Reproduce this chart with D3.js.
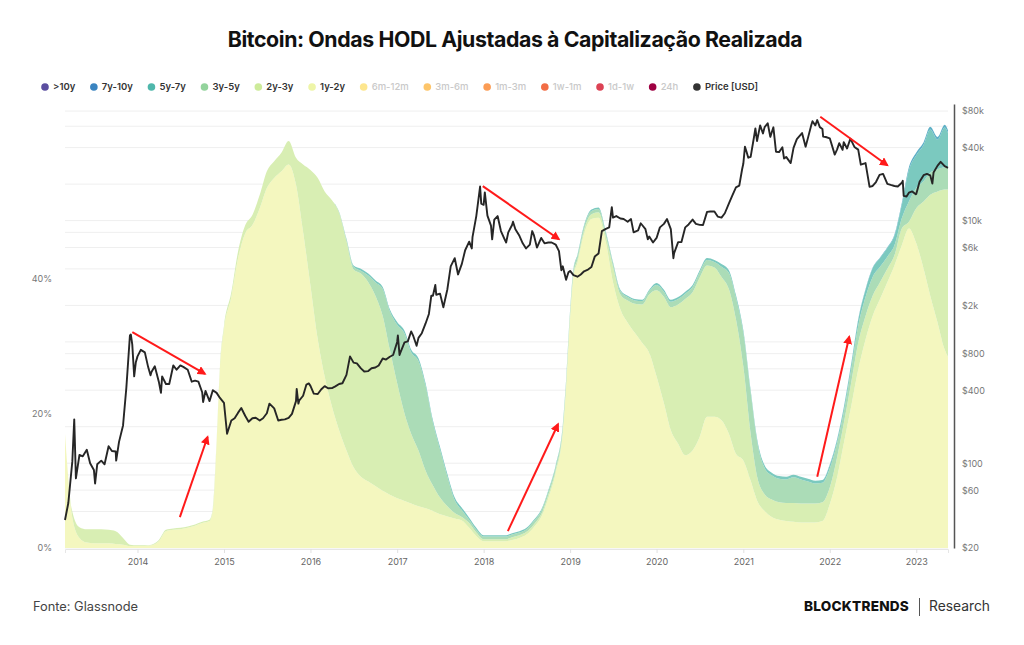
<!DOCTYPE html>
<html>
<head>
<meta charset="utf-8">
<script src="https://cdn.jsdelivr.net/npm/d3@7"></script>
<style>
body { margin: 0; background: #fff; }
svg { display: block; font-family: Inter, "Noto Sans", sans-serif; }
</style>
</head>
<body>
<div id="chart"></div>
<script>
"use strict"

// --- HODL wave data (share of realized cap, %) ---
const waveDates = [
    "2013-03-01","2013-04-01","2013-05-01","2013-06-01","2013-07-01","2013-08-01","2013-09-01","2013-10-01","2013-11-01","2013-12-01",
    "2014-01-01","2014-02-01","2014-03-01","2014-04-01","2014-05-01","2014-06-01","2014-07-01","2014-08-01","2014-09-01","2014-10-01","2014-11-01","2014-11-15","2014-12-01","2014-12-15",
    "2015-01-01","2015-02-01","2015-03-01","2015-04-01","2015-05-01","2015-06-01","2015-07-01","2015-08-01","2015-09-01","2015-10-01","2015-11-01","2015-12-01",
    "2016-01-01","2016-02-01","2016-03-01","2016-04-01","2016-05-01","2016-06-01","2016-07-01","2016-08-01","2016-09-01","2016-10-01","2016-11-01","2016-12-01",
    "2017-01-01","2017-02-01","2017-03-01","2017-04-01","2017-05-01","2017-06-01","2017-07-01","2017-08-01","2017-09-01","2017-10-01","2017-11-01","2017-12-01",
    "2018-01-01","2018-02-01","2018-03-01","2018-04-01","2018-05-01","2018-06-01","2018-07-01","2018-08-01","2018-09-01","2018-10-01","2018-11-01","2018-12-01","2018-12-15",
    "2019-01-01","2019-01-15","2019-02-01","2019-03-01","2019-04-01","2019-05-01","2019-06-01","2019-07-01","2019-08-01","2019-09-01","2019-10-01","2019-11-01","2019-12-01",
    "2020-01-01","2020-02-01","2020-03-01","2020-04-01","2020-05-01","2020-06-01","2020-07-01","2020-08-01","2020-09-01","2020-10-01","2020-11-01","2020-12-01",
    "2021-01-01","2021-02-01","2021-03-01","2021-04-01","2021-05-01","2021-06-01","2021-07-01","2021-08-01","2021-09-01","2021-10-01","2021-11-01","2021-12-01",
    "2022-01-01","2022-02-01","2022-03-01","2022-04-01","2022-05-01","2022-06-01","2022-07-01","2022-08-01","2022-09-01","2022-10-01","2022-11-01","2022-12-01",
    "2023-01-01","2023-02-01","2023-03-01","2023-04-01","2023-05-01","2023-05-15"
];

const hodl1y2y = [
    17, 4.5, 1.5, 0.8, 0.7, 0.7, 0.7, 0.6, 0.5, 0.3,
    0.3, 0.3, 0.4, 1.0, 2.5, 2.7, 2.8, 3.0, 3.3, 3.7, 4.0, 5.6, 15.6, 26.5,
    32.5, 37.3, 43, 46.8, 48, 50.5, 53.5, 55, 56, 57, 54, 47,
    39, 31, 25.5, 21, 17.5, 14.5, 12, 10.6, 9.9, 9.2, 8.5, 7.9,
    7.4, 7.0, 6.6, 6.2, 5.9, 5.5, 5.0, 4.7, 4.4, 4.1, 3.0, 1.8,
    1.0, 1.0, 1.0, 1.0, 1.2, 1.5, 2.0, 3.1, 4.6, 7.4, 11.1, 17.1, 23.8,
    34.2, 40.3, 42.4, 46.7, 48.9, 49.1, 45.4, 39.5, 35.5, 33.5, 32, 30.5, 29,
    25.5, 21.5, 17.5, 15.5, 13.8, 14.5, 16.5, 19.5, 19.5, 19, 17, 14,
    13, 10, 7, 5.5, 4.6, 4.2, 4.0, 3.9, 3.8, 3.8, 3.8, 4.0,
    6.5, 10.5, 15.5, 21, 26.5, 31, 34.5, 37, 39.5, 42, 45, 47.5,
    45.3, 41.5, 37.5, 33.5, 29.5, 28.4
];

const hodl2y3y = [
    0, 0.9, 1.6, 2.0, 2.1, 2.1, 2.0, 1.9, 1.0, 0.2,
    0.1, 0.1, 0.1, 0.2, 0.2, 0.2, 0.2, 0.2, 0.2, 0.2, 0.2, 0.3, 0.4, 0.5,
    0.5, 0.7, 1.0, 1.2, 1.5, 2.0, 2.5, 2.5, 2.8, 3.5, 4.0, 10,
    17.2, 24, 27.5, 30.7, 32.3, 31.1, 29.4, 30.2, 29.6, 28.3, 26, 21.6,
    17.1, 13, 10.4, 8.3, 5.6, 3.8, 2.5, 1.5, 0.8, 0.5, 0.7, 0.5,
    0.3, 0.3, 0.3, 0.3, 0.4, 0.4, 0.4, 0.4, 0.4, 0.5, 0.5, 0.5, 0.5,
    0.5, 0.5, 0.5, 0.6, 0.7, 0.8, 0.9, 2.3, 2.2, 3.3, 4.3, 5.7, 8.7,
    12.8, 15.8, 18.3, 20.7, 23.2, 23.5, 23.7, 22.5, 22.2, 21.3, 21.5, 20,
    14, 7, 3.5, 2.5, 2.6, 2.6, 2.7, 2.8, 2.8, 2.8, 2.8, 2.8,
    2.5, 3.0, 3.0, 3.5, 4.0, 3.5, 3.0, 2.5, 2.0, 1.5, 2.5, 1.0,
    5.2, 10, 15, 19.5, 23.8, 24.9
];

const hodl3y5y = [
    0, 0, 0, 0, 0, 0, 0, 0, 0, 0,
    0, 0, 0, 0, 0, 0, 0, 0, 0, 0, 0, 0, 0, 0,
    0, 0, 0, 0, 0, 0, 0, 0, 0, 0, 0, 0,
    0, 0, 0, 0, 0.2, 0.3, 0.4, 0.4, 1.0, 2.0, 4.0, 5.7,
    8.7, 11.9, 12.1, 13.3, 12.6, 9.3, 7.1, 4.4, 1.9, 1.0, 0.5, 0.4,
    0.4, 0.4, 0.4, 0.4, 0.4, 0.4, 0.4, 0.5, 0.5, 0.5, 0.5, 0.5, 0.5,
    0.5, 0.5, 0.5, 0.5, 0.5, 0.5, 0.5, 0.5, 0.5, 0.5, 0.5, 0.5, 0.5,
    0.8, 0.8, 0.8, 0.8, 0.8, 0.8, 0.8, 0.8, 0.8, 1.5, 2.4, 3.2,
    5, 6.1, 5.2, 3.9, 3.6, 3.5, 3.5, 3.8, 3.6, 3.3, 3.0, 2.9,
    2.8, 2.1, 1.7, 2.0, 2.5, 2.8, 2.8, 2.3, 1.8, 1.5, 1.5, 3.0,
    3.0, 3.0, 3.3, 3.3, 3.3, 3.3
];

const hodl5y7y = [
    0, 0, 0, 0, 0, 0, 0, 0, 0, 0,
    0, 0, 0, 0, 0, 0, 0, 0, 0, 0, 0, 0, 0, 0,
    0, 0, 0, 0, 0, 0, 0, 0, 0, 0, 0, 0,
    0, 0, 0, 0, 0, 0.1, 0.2, 0.3, 0.3, 0.3, 0.3, 0.3,
    0.4, 0.4, 0.4, 0.4, 0.4, 0.4, 0.4, 0.4, 0.4, 0.4, 0.3, 0.3,
    0.2, 0.2, 0.2, 0.2, 0.2, 0.2, 0.2, 0.2, 0.2, 0.2, 0.2, 0.2, 0.2,
    0.2, 0.2, 0.2, 0.2, 0.2, 0.2, 0.2, 0.2, 0.2, 0.2, 0.2, 0.2, 0.2,
    0.3, 0.3, 0.3, 0.3, 0.3, 0.3, 0.3, 0.3, 0.3, 0.4, 0.4, 0.4,
    0.4, 0.4, 0.4, 0.4, 0.4, 0.4, 0.4, 0.4, 0.4, 0.4, 0.4, 0.4,
    0.5, 0.5, 0.6, 0.7, 0.9, 1.1, 1.3, 1.3, 1.3, 1.4, 2.0, 4.7,
    4.9, 5.4, 6.4, 4.4, 5.9, 5.1
];

const hodl7y10y = [
    0, 0, 0, 0, 0, 0, 0, 0, 0, 0,
    0, 0, 0, 0, 0, 0, 0, 0, 0, 0, 0, 0, 0, 0,
    0, 0, 0, 0, 0, 0, 0, 0, 0, 0, 0, 0,
    0, 0, 0, 0, 0, 0, 0, 0, 0, 0, 0, 0,
    0, 0, 0, 0, 0, 0, 0, 0, 0, 0, 0, 0,
    0, 0, 0, 0, 0, 0, 0, 0, 0, 0, 0, 0, 0,
    0, 0, 0, 0, 0, 0, 0, 0, 0, 0, 0, 0, 0,
    0, 0, 0, 0, 0, 0, 0, 0, 0, 0, 0, 0,
    0, 0, 0, 0, 0, 0, 0, 0, 0, 0, 0, 0,
    0.1, 0.1, 0.1, 0.1, 0.1, 0.1, 0.1, 0.1, 0.1, 0.2, 0.3, 0.4,
    0.4, 0.4, 0.4, 0.4, 0.4, 0.4
];

// --- Bitcoin price (USD) ---
const price = [
    ["2013-03-01",34],["2013-03-15",47],["2013-04-01",104],["2013-04-09",230],["2013-04-16",75],["2013-05-01",117],["2013-05-15",114],
    ["2013-06-01",129],["2013-06-15",100],["2013-07-01",88],["2013-07-06",68],["2013-07-15",98],["2013-08-01",105],["2013-08-15",98],
    ["2013-09-01",138],["2013-09-15",126],["2013-10-01",125],["2013-10-03",105],["2013-10-15",150],["2013-11-01",205],["2013-11-15",420],
    ["2013-11-30",1130],["2013-12-04",1150],["2013-12-10",950],["2013-12-18",520],["2013-12-25",680],
    ["2014-01-01",760],["2014-01-15",860],["2014-02-01",820],["2014-02-15",620],["2014-02-25",530],["2014-03-01",565],["2014-03-15",630],
    ["2014-04-01",470],["2014-04-10",380],["2014-04-15",520],["2014-05-01",450],["2014-05-15",450],["2014-06-01",640],["2014-06-15",590],
    ["2014-07-01",640],["2014-07-15",620],["2014-08-01",590],["2014-08-18",470],["2014-09-01",480],["2014-09-15",470],["2014-10-01",385],
    ["2014-10-05",320],["2014-10-15",395],["2014-11-01",325],["2014-11-15",400],["2014-12-01",380],["2014-12-15",345],
    ["2015-01-01",315],["2015-01-14",175],["2015-02-01",225],["2015-02-15",235],["2015-03-01",260],["2015-03-15",285],["2015-04-01",245],
    ["2015-04-15",220],["2015-05-01",235],["2015-05-15",237],["2015-06-01",225],["2015-06-15",235],["2015-07-01",258],["2015-07-12",310],
    ["2015-08-01",283],["2015-08-18",225],["2015-09-01",228],["2015-09-15",230],["2015-10-01",237],["2015-10-15",255],["2015-11-01",325],
    ["2015-11-04",410],["2015-11-11",310],["2015-11-15",330],["2015-12-01",360],["2015-12-15",445],["2015-12-25",455],
    ["2016-01-01",434],["2016-01-15",375],["2016-02-01",372],["2016-02-15",405],["2016-03-01",432],["2016-03-15",415],["2016-04-01",416],
    ["2016-04-15",430],["2016-05-01",450],["2016-05-15",456],["2016-06-01",535],["2016-06-16",760],["2016-07-01",675],["2016-07-15",665],
    ["2016-08-01",605],["2016-08-15",570],["2016-09-01",575],["2016-09-15",607],["2016-10-01",615],["2016-10-15",640],["2016-11-01",730],
    ["2016-11-15",715],["2016-12-01",755],["2016-12-15",780],
    ["2017-01-01",1000],["2017-01-04",1130],["2017-01-11",780],["2017-01-15",820],["2017-02-01",990],["2017-02-15",1010],["2017-03-01",1220],
    ["2017-03-10",1120],["2017-03-24",930],["2017-04-01",1080],["2017-04-15",1180],["2017-05-01",1420],["2017-05-15",1700],["2017-05-25",2400],
    ["2017-06-01",2400],["2017-06-11",2950],["2017-06-15",2450],["2017-07-01",2500],["2017-07-15",1930],["2017-08-01",2720],["2017-08-15",4200],
    ["2017-09-01",4900],["2017-09-15",3600],["2017-10-01",4400],["2017-10-15",5700],["2017-11-01",6700],["2017-11-12",5900],["2017-11-15",7300],
    ["2017-12-01",10900],["2017-12-17",19100],["2017-12-22",13800],
    ["2018-01-01",13500],["2018-01-06",17100],["2018-01-17",11000],["2018-02-01",9100],["2018-02-06",7000],["2018-02-15",10200],["2018-03-01",10900],
    ["2018-03-15",8200],["2018-04-01",6900],["2018-04-06",6600],["2018-04-15",8000],["2018-05-01",9200],["2018-05-05",9800],["2018-05-15",8500],
    ["2018-06-01",7500],["2018-06-15",6500],["2018-06-29",5900],["2018-07-15",6350],["2018-07-25",8200],["2018-08-01",7600],["2018-08-14",6000],
    ["2018-09-01",7200],["2018-09-15",6500],["2018-10-01",6600],["2018-10-15",6600],["2018-11-01",6350],["2018-11-15",5600],["2018-11-25",3900],
    ["2018-12-01",4200],["2018-12-15",3250],["2018-12-25",3750],
    ["2019-01-01",3850],["2019-01-15",3550],["2019-02-01",3450],["2019-02-15",3600],["2019-03-01",3820],["2019-03-15",3920],["2019-04-01",4140],
    ["2019-04-15",5050],["2019-05-01",5350],["2019-05-15",8200],["2019-06-01",8550],["2019-06-15",8800],["2019-06-26",12900],["2019-07-01",10600],
    ["2019-07-15",10900],["2019-08-01",10400],["2019-08-15",10300],["2019-09-01",9800],["2019-09-15",10300],["2019-09-26",8000],["2019-10-15",8300],
    ["2019-10-26",9500],["2019-11-01",9200],["2019-11-15",8500],["2019-11-25",7000],["2019-12-01",7400],["2019-12-17",6600],
    ["2020-01-01",7200],["2020-01-15",8800],["2020-02-01",9400],["2020-02-14",10300],["2020-03-01",8500],["2020-03-12",4900],["2020-03-15",5400],
    ["2020-04-01",6650],["2020-04-15",6650],["2020-05-01",8800],["2020-05-15",9300],["2020-06-01",10200],["2020-06-15",9400],["2020-07-01",9230],
    ["2020-07-15",9200],["2020-08-01",11800],["2020-08-15",11900],["2020-09-01",11900],["2020-09-15",10800],["2020-10-01",10600],["2020-10-15",11500],
    ["2020-11-01",13800],["2020-11-15",16000],["2020-12-01",18800],["2020-12-15",19400],["2020-12-27",26500],
    ["2021-01-01",29400],["2021-01-08",40700],["2021-01-15",36800],["2021-01-22",33000],["2021-02-01",33500],["2021-02-15",48700],["2021-02-21",57500],
    ["2021-02-28",45200],["2021-03-13",61000],["2021-03-25",52300],["2021-04-01",59000],["2021-04-14",63500],["2021-04-25",49000],["2021-05-08",58800],
    ["2021-05-19",37000],["2021-06-01",36700],["2021-06-15",40200],["2021-06-22",32500],["2021-07-01",33500],["2021-07-20",29800],["2021-08-01",39800],
    ["2021-08-15",47000],["2021-09-06",52700],["2021-09-21",40700],["2021-10-01",48100],["2021-10-15",61500],["2021-10-20",66000],["2021-11-01",61000],
    ["2021-11-09",67500],["2021-11-20",59000],["2021-12-01",57000],["2021-12-04",49300],["2021-12-15",48900],
    ["2022-01-01",47700],["2022-01-22",35000],["2022-02-01",38700],["2022-02-10",43500],["2022-02-24",38300],["2022-03-01",44400],["2022-03-15",39300],
    ["2022-03-29",47400],["2022-04-15",40500],["2022-05-01",38500],["2022-05-12",28900],["2022-06-01",29800],["2022-06-18",19000],["2022-07-01",19300],
    ["2022-07-15",20800],["2022-07-30",23800],["2022-08-14",24300],["2022-09-01",20100],["2022-09-15",19700],["2022-10-01",19300],["2022-10-15",19100],
    ["2022-11-01",20500],["2022-11-05",21300],["2022-11-09",16000],["2022-11-21",15800],["2022-12-01",17000],["2022-12-15",17400],["2022-12-30",16500],
    ["2023-01-01",16600],["2023-01-15",20900],["2023-02-01",23700],["2023-02-15",24300],["2023-03-01",23600],["2023-03-10",20200],["2023-03-15",24900],
    ["2023-04-01",28400],["2023-04-14",30500],["2023-05-01",28100],["2023-05-15",27200]
];

// --- axes / legend ---
const pctTicks = [0, 20, 40];
const priceTicks = [20, 60, 100, 400, 800, 2000, 6000, 10000, 40000, 80000];
const priceTickLabels = ["$20", "$60", "$100", "$400", "$800", "$2k", "$6k", "$10k", "$40k", "$80k"];
const priceGrid = [20, 40, 60, 80, 100, 200, 400, 600, 800, 1000, 2000, 4000, 6000, 8000, 10000, 20000, 40000, 60000, 80000];
const yearTicks = ["2014","2015","2016","2017","2018","2019","2020","2021","2022","2023"];

const legendNames = [">10y", "7y-10y", "5y-7y", "3y-5y", "2y-3y", "1y-2y", "6m-12m", "3m-6m", "1m-3m", "1w-1m", "1d-1w", "24h", "Price [USD]"];
const legendColors = ["#5b4ea0", "#3a84c0", "#4fb7ab", "#93d39c", "#cdeb9a", "#eef5a8", "#fde68e", "#fdc56a", "#fb9c55", "#f26d45", "#dc4254", "#9e0142", "#333333"];
const legendOn = [true, true, true, true, true, true, false, false, false, false, false, false, true];

// stacked layers, bottom to top
const layerKeys = ["1y-2y", "2y-3y", "3y-5y", "5y-7y", "7y-10y"];
const layerValues = [hodl1y2y, hodl2y3y, hodl3y5y, hodl5y7y, hodl7y10y];
const layerColors = ["#f4f7bf", "#d8eeb3", "#abdcb7", "#7bc9bf", "#5eb0c6"];

// annotation arrows: [decimal year, % share] start -> end
const arrows = [
    [[2013.94, 32.1], [2014.78, 25.9]],
    [[2014.49, 4.6], [2014.81, 16.5]],
    [[2017.99, 53.8], [2018.87, 45.9]],
    [[2018.28, 2.5], [2018.86, 18.4]],
    [[2021.855, 10.6], [2022.225, 31.4]],
    [[2021.89, 64.1], [2022.665, 56.9]]
];

const width = 1024, height = 645;
const plotLeft = 65, plotRight = 948, plotTop = 104, plotBottom = 548;

const parse = d3.timeParse("%Y-%m-%d");
function yearToDate(y) {
    const yr = Math.floor(y);
    const start = new Date(yr, 0, 1), end = new Date(yr + 1, 0, 1);
    return new Date(+start + (y - yr) * (end - start));
}

const svg = d3.select("#chart").append("svg")
    .attr("width", width)
    .attr("height", height);

const x = d3.scaleTime()
    .domain([parse("2013-03-01"), parse("2023-05-15")])
    .range([plotLeft, plotRight]);
const yPct = d3.scaleLinear()
    .domain([0, 66])
    .range([plotBottom, plotTop]);
const yPrice = d3.scaleLog()
    .domain([20, 91500])
    .range([plotBottom, plotTop]);

// title
svg.append("text")
    .attr("x", width / 2 + 3)
    .attr("y", 47)
    .attr("text-anchor", "middle")
    .style("font-size", "21.3px")
    .style("font-weight", 700)
    .style("letter-spacing", "-0.4px")
    .style("fill", "#111")
    .text("Bitcoin: Ondas HODL Ajustadas à Capitalização Realizada");

// legend
let lx = 45;
legendNames.forEach((name, i) => {
    const g = svg.append("g").attr("transform", "translate(" + lx + ",87)");
    g.append("circle")
        .attr("r", 3.8)
        .attr("fill", legendColors[i]);
    const t = g.append("text")
        .attr("x", 8)
        .attr("y", 3.3)
        .style("font-size", "9.5px")
        .style("font-weight", legendOn[i] ? 600 : 500)
        .style("fill", legendOn[i] ? "#333" : "#c9c9c9")
        .text(name);
    lx += 8 + t.node().getComputedTextLength() + 18.6;
});

// grid
svg.append("g")
    .selectAll("line")
    .data(priceGrid)
    .join("line")
    .attr("x1", plotLeft)
    .attr("x2", plotRight)
    .attr("y1", d => yPrice(d))
    .attr("y2", d => yPrice(d))
    .attr("stroke", "#efefef")
    .attr("stroke-width", 1);

// stacked waves
const rows = waveDates.map((d, i) => {
    const row = { date: parse(d) };
    layerKeys.forEach((k, j) => { row[k] = layerValues[j][i]; });
    return row;
});
const stack = d3.stack().keys(layerKeys);
const series = stack(rows);

const area = d3.area()
    .curve(d3.curveMonotoneX)
    .x(d => x(d.data.date))
    .y0(d => yPct(d[0]))
    .y1(d => yPct(d[1]));

svg.append("g")
    .selectAll("path")
    .data(series)
    .join("path")
    .attr("fill", (d, i) => layerColors[i])
    .attr("d", area);

// price line
const line = d3.line()
    .x(d => x(parse(d[0])))
    .y(d => yPrice(d[1]));

svg.append("path")
    .datum(price)
    .attr("fill", "none")
    .attr("stroke", "#262626")
    .attr("stroke-width", 1.9)
    .attr("stroke-linejoin", "round")
    .attr("d", line);

// arrows
svg.append("defs").append("marker")
    .attr("id", "head")
    .attr("viewBox", "0 0 10 10")
    .attr("refX", 8)
    .attr("refY", 5)
    .attr("markerWidth", 4.5)
    .attr("markerHeight", 4.5)
    .attr("orient", "auto")
    .append("path")
    .attr("d", "M0,0 L10,5 L0,10 Z")
    .attr("fill", "#ff1a1a");

svg.append("g")
    .selectAll("line")
    .data(arrows)
    .join("line")
    .attr("x1", d => x(yearToDate(d[0][0])))
    .attr("y1", d => yPct(d[0][1]))
    .attr("x2", d => x(yearToDate(d[1][0])))
    .attr("y2", d => yPct(d[1][1]))
    .attr("stroke", "#ff1a1a")
    .attr("stroke-width", 2)
    .attr("marker-end", "url(#head)");

// left axis
const yAxisLeft = d3.axisLeft(yPct)
    .tickValues(pctTicks)
    .tickFormat(d => d + "%")
    .tickSize(0)
    .tickPadding(0);
const gl = svg.append("g")
    .attr("transform", "translate(52,0)")
    .call(yAxisLeft);
gl.select(".domain").remove();
gl.selectAll("text").style("font-size", "9px").style("fill", "#777").style("font-family", "Inter, sans-serif");

// right axis
const yAxisRight = d3.axisRight(yPrice)
    .tickValues(priceTicks)
    .tickFormat((d, i) => priceTickLabels[i])
    .tickSize(0)
    .tickPadding(8);
const gr = svg.append("g")
    .attr("transform", "translate(954,0)")
    .call(yAxisRight);
gr.select(".domain").attr("stroke", "#555").attr("stroke-width", 1.5);
gr.selectAll("text").style("font-size", "9px").style("fill", "#777").style("font-family", "Inter, sans-serif");

// bottom axis
const xAxis = d3.axisBottom(x)
    .tickValues(yearTicks.map(y => parse(y + "-01-01")))
    .tickFormat(d3.timeFormat("%Y"))
    .tickSize(4)
    .tickPadding(6);
const gb = svg.append("g")
    .attr("transform", "translate(0," + (plotBottom + 1) + ")")
    .call(xAxis);
gb.select(".domain").attr("stroke", "#e6e6e6");
gb.selectAll(".tick line").attr("stroke", "#e0e0e0");
gb.selectAll("text").style("font-size", "9px").style("fill", "#666").style("font-family", "Inter, sans-serif");

// footer
svg.append("text")
    .attr("x", 33)
    .attr("y", 611)
    .style("font-size", "12.8px")
    .style("fill", "#444")
    .text("Fonte: Glassnode");

svg.append("text")
    .attr("x", 909)
    .attr("y", 611)
    .attr("text-anchor", "end")
    .style("font-size", "13.6px")
    .style("font-weight", 800)
    .style("letter-spacing", "0.2px")
    .style("fill", "#111")
    .text("BLOCKTRENDS");

svg.append("line")
    .attr("x1", 919.5).attr("x2", 919.5)
    .attr("y1", 598).attr("y2", 616)
    .attr("stroke", "#555")
    .attr("stroke-width", 1);

svg.append("text")
    .attr("x", 929)
    .attr("y", 611)
    .style("font-size", "13.8px")
    .style("fill", "#333")
    .text("Research");
</script>
</body>
</html>
